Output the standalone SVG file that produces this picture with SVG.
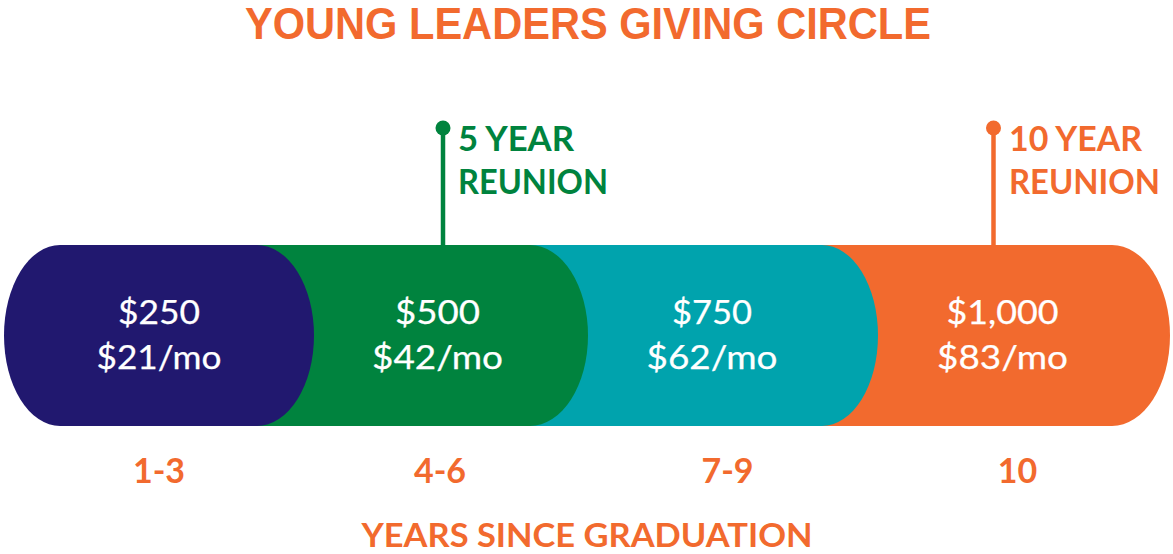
<svg xmlns="http://www.w3.org/2000/svg" width="1173" height="554" viewBox="0 0 1173 554">
<style>
.title{font-family:"Liberation Sans Narrow","Liberation Sans",Arial,sans-serif;font-weight:bold;font-size:45px;fill:#F26A2E}
.amt{font-family:Lato,"Open Sans",sans-serif;font-weight:400;font-size:33px;fill:#ffffff;stroke:#ffffff;stroke-width:0.25;text-anchor:middle}
.pin{font-family:Lato,"Open Sans",sans-serif;font-weight:bold;font-size:34px}
.yr{font-family:Lato,"Open Sans",sans-serif;font-weight:bold;font-size:34px;fill:#F26A2E;text-anchor:middle}
.axis{font-family:Lato,"Open Sans",sans-serif;font-weight:bold;font-size:33px;fill:#F26A2E;text-anchor:middle}
</style>
<rect width="1173" height="554" fill="#ffffff"/>
<g id="title"><text class="title" x="245" y="39" textLength="686" lengthAdjust="spacingAndGlyphs">YOUNG LEADERS GIVING CIRCLE</text></g>
<g id="connectors">
  <line x1="443" y1="128" x2="443" y2="246" stroke="#00833E" stroke-width="4.5"/>
  <circle cx="443" cy="128" r="7.5" fill="#00833E"/>
  <line x1="993.5" y1="128" x2="993.5" y2="246" stroke="#F26A2E" stroke-width="4.5"/>
  <circle cx="993.5" cy="128" r="7.5" fill="#F26A2E"/>
</g>
<g id="seg4">
  <path d="M810,245 H1112 A58,90.5 0 0 1 1112,426 H810 Z" fill="#F26A2E"/>
  <text class="amt" x="1002.5" y="324" textLength="112" lengthAdjust="spacingAndGlyphs">$1,000</text>
  <text class="amt" x="1002.5" y="369" textLength="131" lengthAdjust="spacingAndGlyphs">$83/mo</text>
</g>
<g id="seg3">
  <path d="M520,245 H822 A56,90.5 0 0 1 822,426 H520 Z" fill="#00A3AD"/>
  <text class="amt" x="712" y="324" textLength="80" lengthAdjust="spacingAndGlyphs">$750</text>
  <text class="amt" x="712" y="369" textLength="131" lengthAdjust="spacingAndGlyphs">$62/mo</text>
</g>
<g id="seg2">
  <path d="M250,245 H530 A58,90.5 0 0 1 530,426 H250 Z" fill="#00833E"/>
  <text class="amt" x="437.5" y="324" textLength="85" lengthAdjust="spacingAndGlyphs">$500</text>
  <text class="amt" x="437.5" y="369" textLength="131" lengthAdjust="spacingAndGlyphs">$42/mo</text>
</g>
<g id="seg1">
  <path d="M60,245 H257 A57,90.5 0 0 1 257,426 H60 A56,90.5 0 0 1 60,245 Z" fill="#21186F"/>
  <text class="amt" x="159" y="324" textLength="82" lengthAdjust="spacingAndGlyphs">$250</text>
  <text class="amt" x="159" y="369" textLength="125" lengthAdjust="spacingAndGlyphs">$21/mo</text>
</g>
<g id="reunion5">
  <text class="pin" fill="#00833E" x="458" y="151" textLength="116" lengthAdjust="spacingAndGlyphs">5 YEAR</text>
  <text class="pin" fill="#00833E" x="458" y="194" textLength="150" lengthAdjust="spacingAndGlyphs">REUNION</text>
</g>
<g id="reunion10">
  <text class="pin" fill="#F26A2E" x="1009" y="151" textLength="133" lengthAdjust="spacingAndGlyphs">10 YEAR</text>
  <text class="pin" fill="#F26A2E" x="1009" y="194" textLength="151" lengthAdjust="spacingAndGlyphs">REUNION</text>
</g>
<g id="years">
  <text class="yr" x="159" y="483">1-3</text>
  <text class="yr" x="440" y="483">4-6</text>
  <text class="yr" x="727.5" y="483">7-9</text>
  <text class="yr" x="1017.5" y="483">10</text>
</g>
<g id="axis"><text class="axis" x="587" y="547" textLength="451" lengthAdjust="spacingAndGlyphs">YEARS SINCE GRADUATION</text></g>
</svg>
